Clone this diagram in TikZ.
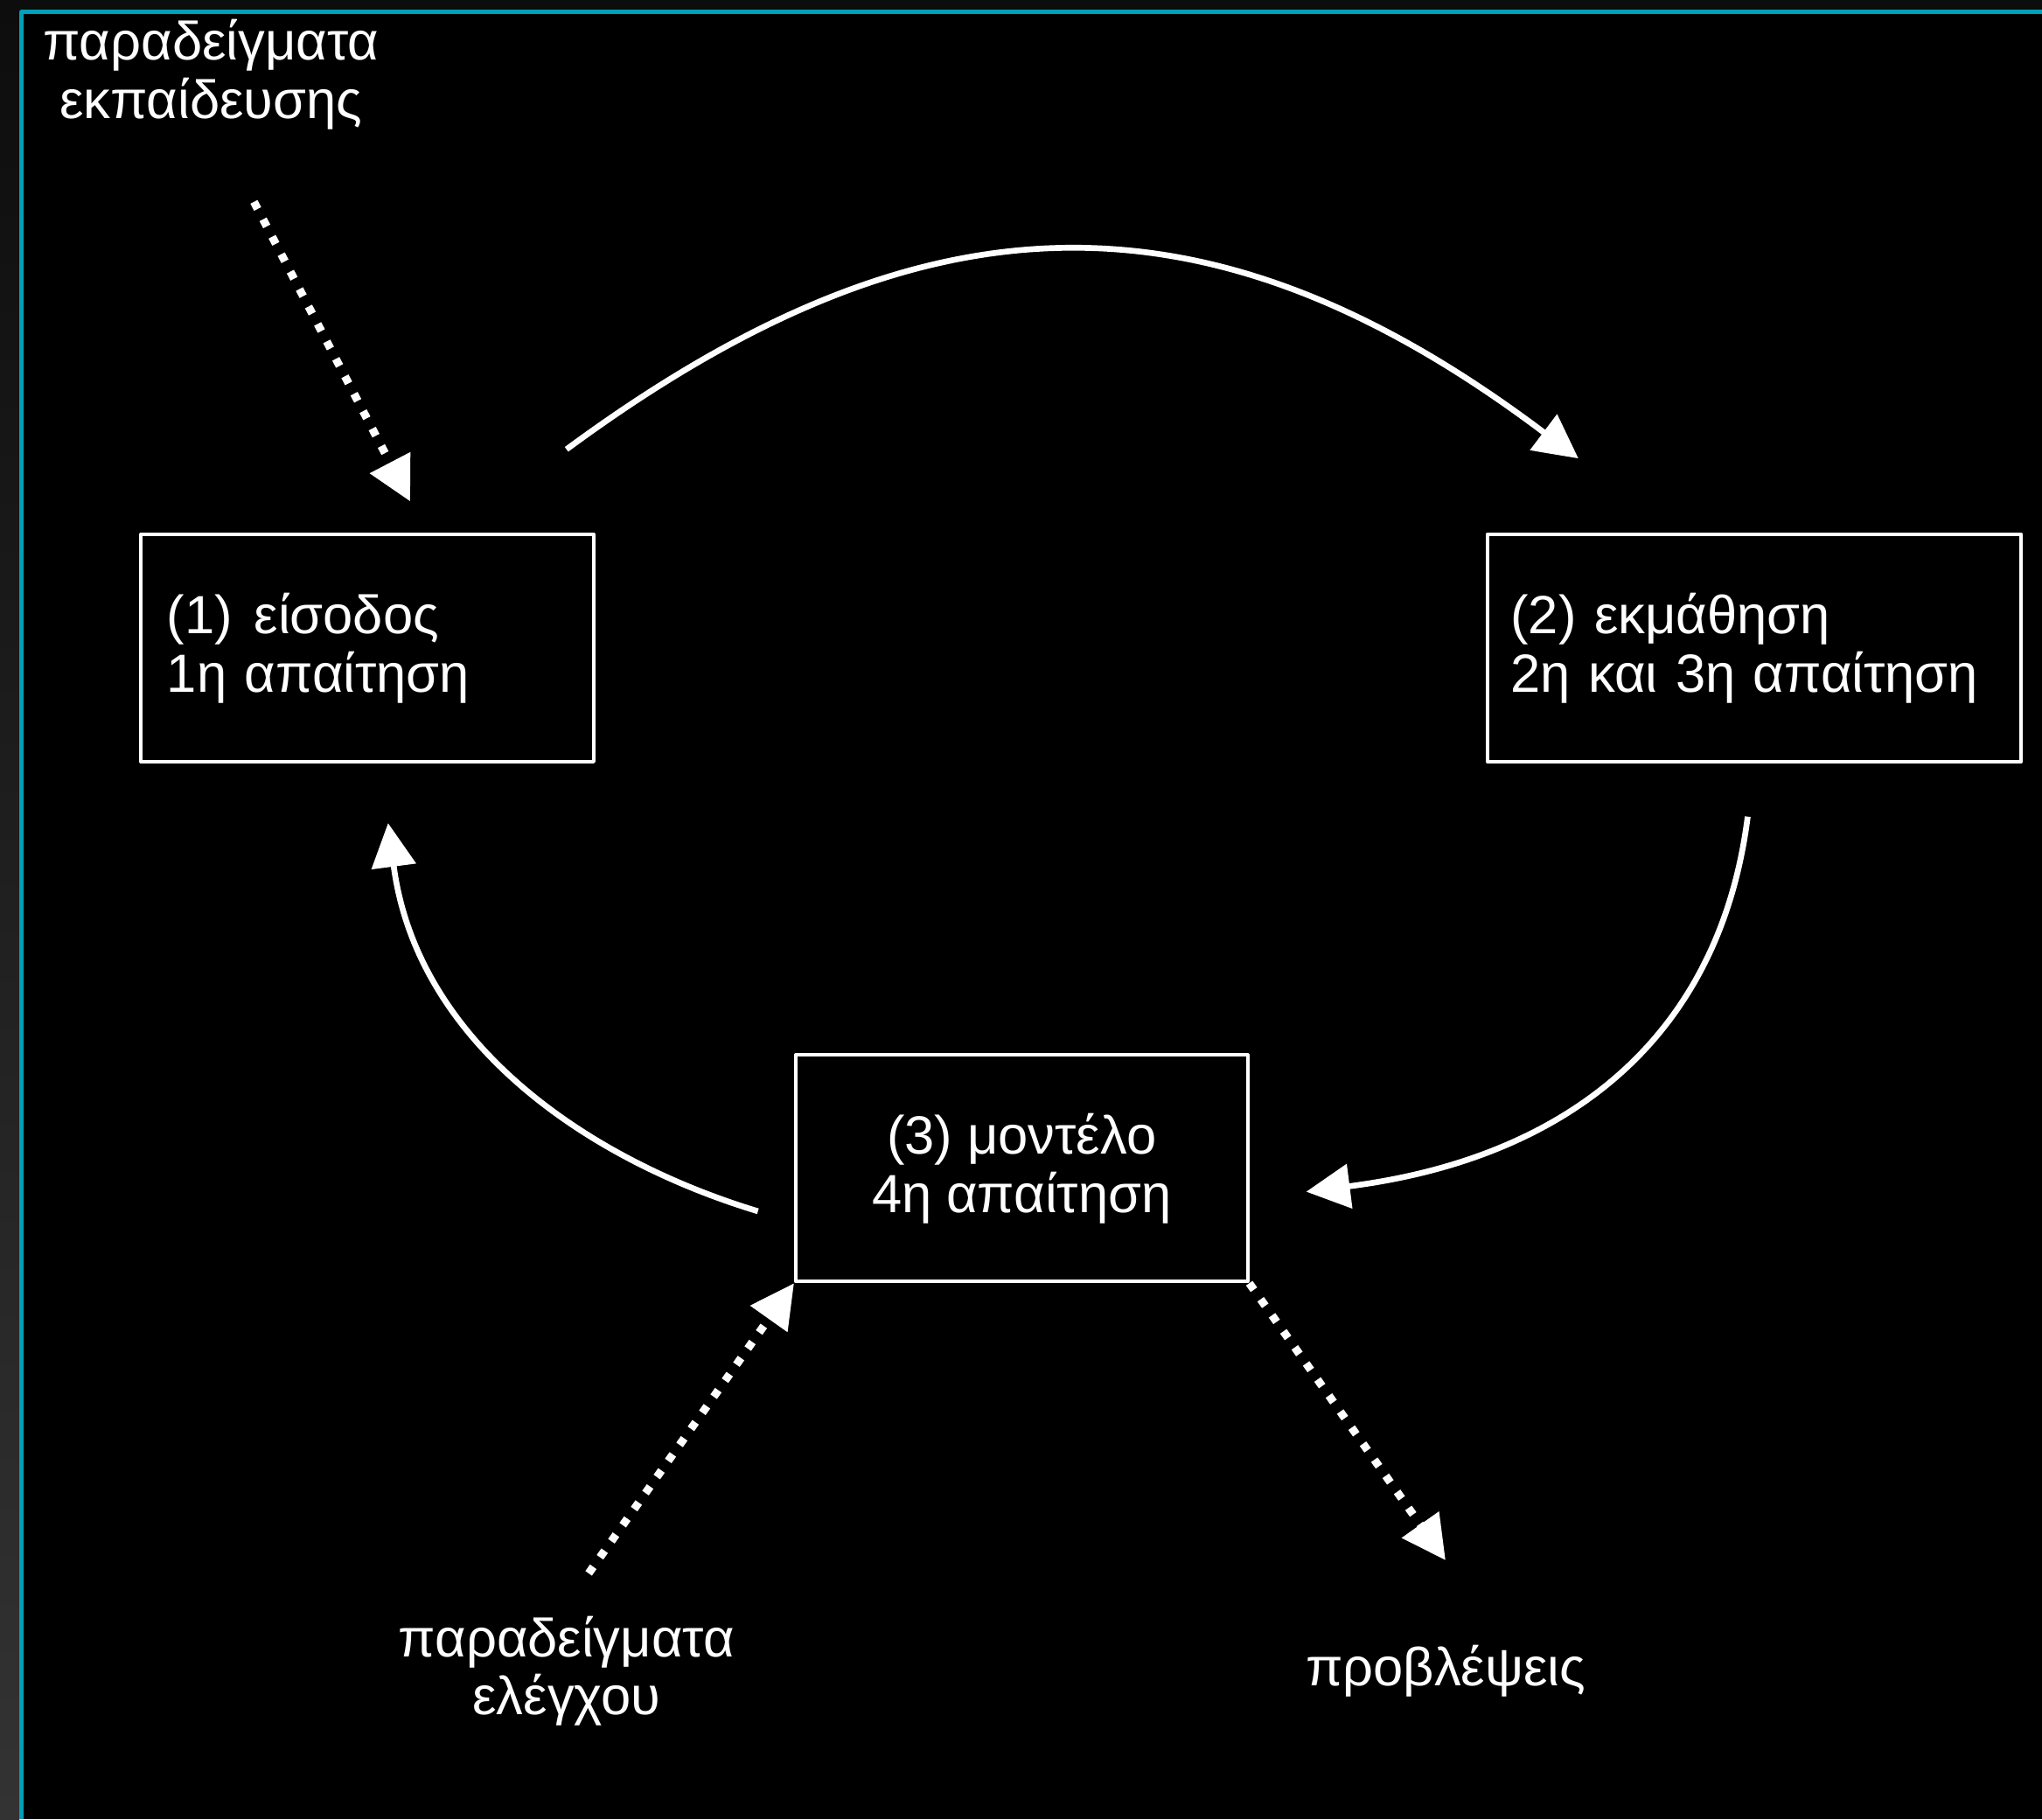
\documentclass[tikz,border=0pt]{standalone}
\usepackage{fontspec}
\setmainfont{Liberation Sans}
\usetikzlibrary{arrows.meta}
\definecolor{framecyan}{RGB}{0,160,184}
\definecolor{topgray}{RGB}{13,13,13}
\definecolor{sidegray}{RGB}{51,51,51}
\begin{document}
\begin{tikzpicture}[x=0.01489cm,y=-0.01489cm,>={Triangle[length=0.5cm,width=0.5cm]},font=\fontsize{17.5}{19}\selectfont,line join=round,
	box/.style={draw=white,line width=1.1pt,text=white,minimum height=2.6cm,inner sep=0pt},
	lbl/.style={text=white,align=center,inner sep=0pt},
	flow/.style={white,line width=1.9pt,->},
	dots/.style={white,line width=2.6pt,dash pattern=on 2.6pt off 3.8pt,->}]
	\useasboundingbox (0,0) rectangle (1568,1397);
	\fill[black] (0,0) rectangle (1568,1397);
	\fill[topgray] (0,0) rectangle (1568,7.4);
	\shade[top color=topgray,bottom color=sidegray] (0,0) rectangle (14.8,1397);
	\draw[framecyan,line width=0.05cm] (16.5,1397)--(16.5,9)--(1568,9);
	\node[box,minimum width=5.18cm,text width=4.58cm,align=left] (in) at (282,497.5) {(1)\hskip 7pt είσοδος\\1η απαίτηση};
	\node[box,minimum width=6.105cm,text width=5.57cm,align=left] (learn) at (1347,497.5) {(2) εκμάθηση\\2η και 3η απαίτηση};
	\node[box,minimum width=5.167cm,minimum height=2.59cm,align=center] (model) at (784.5,897) {(3) μοντέλο\\4η απαίτηση};
	\node[lbl] (train) at (162,57) {παραδείγματα\\εκπαίδευσης};
	\node[lbl] (test) at (435,1283) {παραδείγματα\\ελέγχου};
	\node[lbl] (pred) at (1110,1283) {προβλέψεις};
	\path
	(195,155) coordinate (T1)
	(315,385) coordinate (T2)
	(452,1208) coordinate (E1)
	(1110,1198) coordinate (P1)
	(435,345) coordinate (A1)
	(1212,352) coordinate (A2)
	(1342,627) coordinate (B1)
	(1003,915) coordinate (B2)
	(582,930) coordinate (C1)
	(298,632) coordinate (C2)
	;
	\draw[dots] (T1)--(T2);
	\draw[dots] (E1)--(model.south west);
	\draw[dots] (model.south east)--(P1);
	\draw[flow] (A1) .. controls (700,150) and (920,132) .. (A2);
	\draw[flow] (B1) .. controls (1320,800) and (1200,890) .. (B2);
	\draw[flow] (C1) .. controls (450,890) and (320,800) .. (C2);
\end{tikzpicture}
\end{document}
